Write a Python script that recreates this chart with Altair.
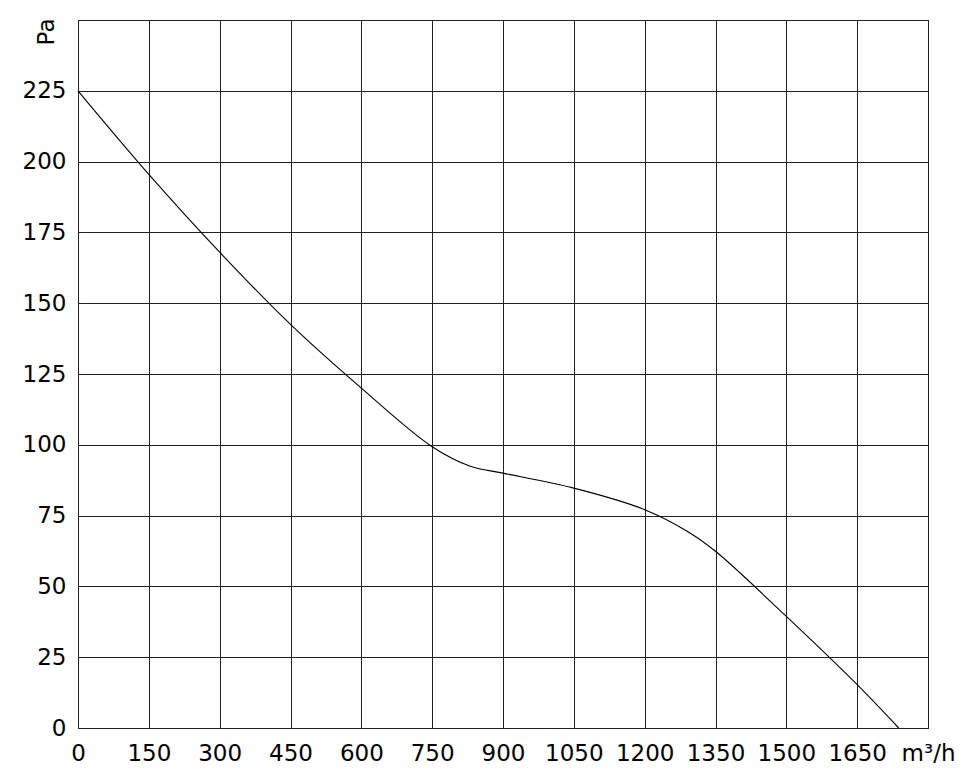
import altair as alt
import pandas as pd

flow = [0, 150, 300, 450, 600, 750, 831, 900, 1050,
        1200, 1290, 1350, 1500, 1650, 1738]
pressure = [225, 195.5, 168, 142.5, 120, 99.3, 92.4, 90, 84.7,
            77.1, 69.5, 62.4, 39.4, 15.3, 0]
x_ticks = list(range(0, 1801, 150))
y_grid = list(range(0, 251, 25))

df = pd.DataFrame({"Q": flow, "P": pressure})

FONT = "DejaVu Sans"

chart = alt.Chart(df).mark_line(color="black", strokeWidth=1.1, interpolate="catmull-rom").encode(
    x=alt.X("Q:Q",
            scale=alt.Scale(domain=[0, 1800], nice=False, zero=False),
            axis=alt.Axis(values=x_ticks, title=None, ticks=False, tickSize=0, domain=False,
                          grid=True, gridColor="#222", gridWidth=1, gridOpacity=1,
                          labelFont=FONT, labelFontSize=23, labelColor="black",
                          labelPadding=14, labelFlush=False, labelOverlap=False,
                          labelExpr="datum.value == 1800 ? 'm³/h' : datum.label",
                          format="d")),
    y=alt.Y("P:Q",
            scale=alt.Scale(domain=[0, 250], nice=False, zero=True),
            axis=alt.Axis(values=y_grid, title="Pa", ticks=False, tickSize=0, domain=False,
                          grid=True, gridColor="#222", gridWidth=1, gridOpacity=1,
                          labelFont=FONT, labelFontSize=23, labelColor="black",
                          labelPadding=12, labelFlush=False, labelOverlap=False,
                          labelExpr="datum.value == 250 ? '' : datum.label",
                          titleFont=FONT, titleFontSize=23, titleFontWeight="normal",
                          titleColor="black", titleAngle=270, titleAlign="right",
                          titleBaseline="alphabetic", titleX=-25, titleY=-2)),
).properties(
    width=850, height=708,
    autosize=alt.AutoSizeParams(type="none"),
    padding={"left": 70, "top": 12, "right": 32, "bottom": 47},
).configure_view(stroke="black", strokeWidth=1)

chart.save("out.html", embed_options={"renderer": "svg", "actions": False})
